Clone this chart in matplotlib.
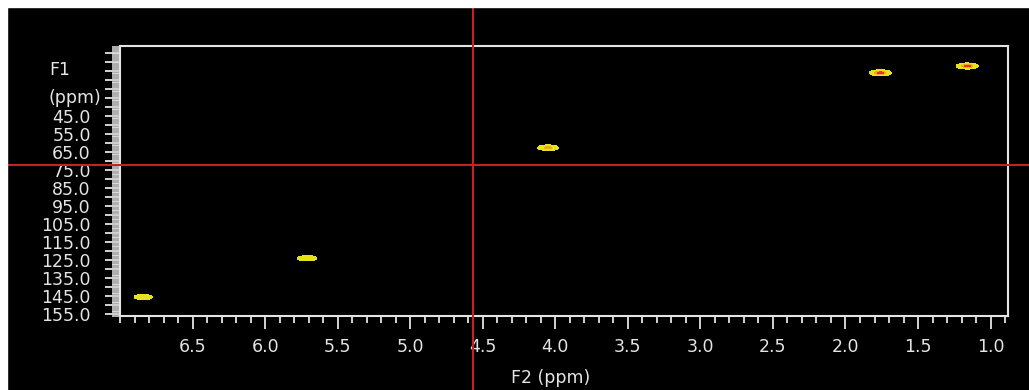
import matplotlib
matplotlib.use("Agg")
import matplotlib.pyplot as plt
import matplotlib.transforms as mtransforms
from matplotlib.patches import Rectangle
from matplotlib.lines import Line2D
from matplotlib.ticker import MultipleLocator, FixedLocator, FuncFormatter
import numpy as np

# cross peaks (F2 = 1H ppm, F1 = 13C ppm)
peak_f2 = [6.84, 5.71, 4.05, 1.76, 1.16]
peak_f1 = [145.5, 124.0, 62.7, 21.2, 17.4]
peak_amp = [0.45, 0.55, 0.7, 1.0, 1.0]

x_ticks = [6.5, 6.0, 5.5, 5.0, 4.5, 4.0, 3.5, 3.0, 2.5, 2.0, 1.5, 1.0]
y_labels = [45, 55, 65, 75, 85, 95, 105, 115, 125, 135, 145, 155]

cursor_f2 = 4.57
cursor_f1 = 72.1

FG = "#e4e4e4"
RED = "#cc1f1f"


def main(outfile="out.png"):
    fig = plt.figure(figsize=(10.29, 3.9), dpi=100, facecolor="black")
    ax = fig.add_axes([120 / 1029, 74 / 390, 888 / 1029, 270 / 390])
    ax.set_facecolor("black")

    ax.set_xlim(7.0, 0.88)
    ax.set_ylim(156.0, 6.3)

    # contour plot of the cross peaks
    xs = np.linspace(7.0, 0.88, 3000)
    ys = np.linspace(6.3, 156.0, 1200)
    X, Y = np.meshgrid(xs, ys)
    Z = np.zeros_like(X)
    for f2, f1, a in zip(peak_f2, peak_f1, peak_amp):
        Z += a * np.exp(-((X - f2) / 0.034) ** 2 / 2 - ((Y - f1) / 0.75) ** 2 / 2)
    ax.contourf(X, Y, Z, levels=[0.08, 0.55, 0.8, 2.0],
                colors=["#e6e21c", "#f0a828", "#e23a18"])

    for s in ax.spines.values():
        s.set_color(FG)
        s.set_linewidth(1.5)

    ax.xaxis.set_major_locator(FixedLocator(x_ticks))
    ax.xaxis.set_minor_locator(MultipleLocator(0.1))
    ax.xaxis.set_major_formatter(FuncFormatter(lambda v, p: "%.1f" % v))
    ax.tick_params(axis="x", which="major", length=9, width=1.3, color=FG,
                   labelcolor=FG, labelsize=12.5, pad=7)
    ax.tick_params(axis="x", which="minor", length=5, width=1.3, color=FG)

    ax.yaxis.set_major_locator(FixedLocator(np.arange(10, 157, 5)))
    ax.yaxis.set_minor_locator(MultipleLocator(1))
    ax.yaxis.set_major_formatter(FuncFormatter(
        lambda v, p: "%.1f" % v if int(round(v)) in y_labels else ""))
    ax.tick_params(axis="y", which="major", length=11, width=1.3, color=FG,
                   labelcolor=FG, labelsize=12.5, pad=10)
    ax.tick_params(axis="y", which="minor", length=6, width=1.1, color=FG)

    trans = mtransforms.blended_transform_factory(ax.transAxes, ax.transData)
    ax.text(-0.0800, 19.6, "F1", transform=trans, color=FG, fontsize=12.5,
            ha="left", va="center")
    ax.text(-0.0800, 35.0, "(ppm)", transform=trans, color=FG, fontsize=12.5,
            ha="left", va="center")
    fig.text(551 / 1029, 1 - 378 / 390, "F2 (ppm)", color=FG, fontsize=12.5,
             ha="center", va="center")

    # cursor crosshair spanning the whole window
    vx = ax.transData.transform((cursor_f2, cursor_f1))
    fx, fy = fig.transFigure.inverted().transform(vx)
    fig.add_artist(Line2D([fx, fx], [0, 1], color=RED, lw=1.5, zorder=50,
                          transform=fig.transFigure))
    fig.add_artist(Line2D([0, 1], [fy, fy], color=RED, lw=1.5, zorder=50,
                          transform=fig.transFigure))

    # white window border on top and left
    fig.add_artist(Rectangle((0, 1 - 7 / 390), 1, 7 / 390, color="white",
                             transform=fig.transFigure, zorder=100))
    fig.add_artist(Rectangle((0, 0), 7 / 1029, 1, color="white",
                             transform=fig.transFigure, zorder=100))

    fig.savefig(outfile, dpi=100, facecolor="black")


if __name__ == "__main__":
    main()
